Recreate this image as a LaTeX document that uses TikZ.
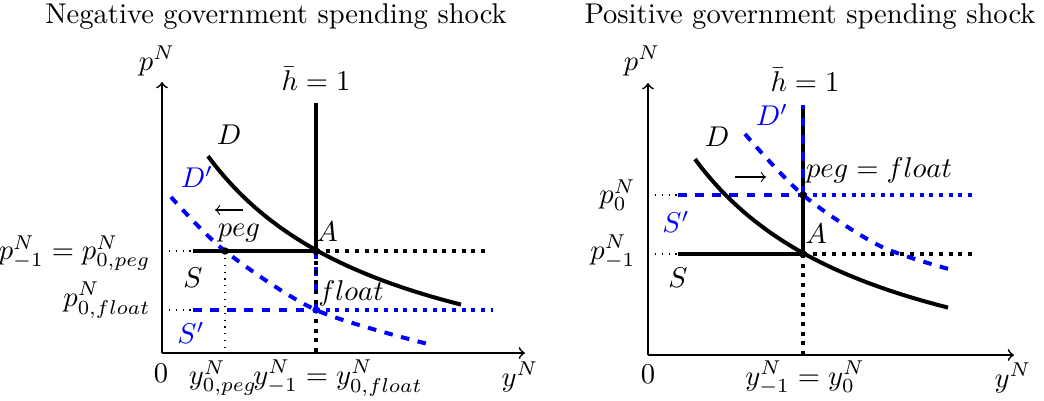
\documentclass[tikz,border=0pt]{standalone}
\usepackage{amsmath}
\begin{document}
\begin{tikzpicture}[x=0.35pt,y=-0.35pt,
  axis/.style={semithick,->},
  thickcurve/.style={line width=1.4pt},
  blackdots/.style={line width=1.4pt,dotted},
  bluedash/.style={line width=1.4pt,dashed,blue},
  bluedots/.style={line width=1.4pt,dotted,blue},
  guide/.style={dotted,line width=0.4pt},
  lbl/.style={inner sep=0pt},
  bluelbl/.style={inner sep=0pt,text=blue}]
\useasboundingbox (0,0) rectangle (1044,400);

% ---------------- Left panel ----------------
\node[lbl] (t1) at (276,17) {Negative government spending shock};
\coordinate (O1) at (162,353);
\coordinate (Y1) at (162,82);
\coordinate (X1) at (525,353);
\coordinate (A1) at (316,251);
\coordinate (P1) at (225,251);
\coordinate (F1) at (316,310);
\coordinate (H1) at (316,103);
\coordinate (HB1) at (316,353);
\coordinate (S1s) at (193,251);
\coordinate (S1e) at (490,251);
\coordinate (S1a) at (162,251);
\coordinate (T1s) at (193,310);
\coordinate (T1e) at (493,310);
\coordinate (T1a) at (162,310);
\coordinate (PB1) at (225,353);

\draw[axis] (O1) -- (Y1);
\draw[axis] (O1) -- (X1);
\draw[guide] (S1a) -- (S1s);
\draw[guide] (T1a) -- (T1s);
\draw[guide] (P1) -- (PB1);

\draw[bluedash] (T1s) -- (F1);
\draw[bluedots] (F1) -- (T1e);
\draw[bluedash] (F1) -- (H1);
\draw[thickcurve] (H1) -- (A1);
\draw[blackdots] (A1) -- (HB1);
\draw[thickcurve] (S1s) -- (A1);
\draw[blackdots] (A1) -- (S1e);

\draw[thickcurve] plot[domain=208:461,samples=60] (\x,{417.8-505/((\x-15)/100)});
\draw[bluedash] plot[smooth] coordinates {(171,197) (225,251) (316,310) (428,344)};

\fill (A1) circle[radius=1.3pt];
\fill (P1) circle[radius=1.3pt];
\fill[blue] (F1) circle[radius=1.3pt];

\coordinate (ar1s) at (243,210);
\coordinate (ar1e) at (215,210);
\draw[->] (ar1s) -- (ar1e);

\node[lbl] (pN1) at (157,61) {$p^N$};
\node[lbl] (yN1) at (520,377) {$y^N$};
\node[lbl] (z1) at (161,373) {$0$};
\node[lbl] (h1) at (316,79) {$\bar h = 1$};
\node[lbl] (D1) at (229,135) {$D$};
\node[bluelbl] (Dp1) at (197,177) {$D'$};
\node[lbl] (peg1) at (239,233) {$peg$};
\node[lbl] (Al1) at (327,232) {$A$};
\node[lbl] (Sl1) at (193,278) {$S$};
\node[bluelbl] (Spl1) at (191,333) {$S'$};
\node[lbl] (fl1) at (351,293) {$float$};
\node[lbl,anchor=east] (pl1) at (151,253) {$p^N_{-1} = p^N_{0,peg}$};
\node[lbl,anchor=east] (pl2) at (151,300) {$p^N_{0,float}$};
\node[lbl] (xl1) at (223,378) {$y^N_{0,peg}$};
\node[lbl] (xl2) at (338,378) {$y^N_{-1} = y^N_{0,float}$};

% ---------------- Right panel ----------------
\node[lbl] (t2) at (810,17) {Positive government spending shock};
\coordinate (O2) at (648,355);
\coordinate (Y2) at (648,83);
\coordinate (X2) at (1014,355);
\coordinate (A2) at (803,254);
\coordinate (P2) at (803,195);
\coordinate (H2) at (803,105);
\coordinate (HB2) at (803,355);
\coordinate (S2s) at (678,254);
\coordinate (S2e) at (975,254);
\coordinate (S2a) at (648,254);
\coordinate (T2s) at (678,195);
\coordinate (T2e) at (975,195);
\coordinate (T2a) at (648,195);

\draw[axis] (O2) -- (Y2);
\draw[axis] (O2) -- (X2);
\draw[guide] (S2a) -- (S2s);
\draw[guide] (T2a) -- (T2s);

\draw[thickcurve] (S2s) -- (A2);
\draw[blackdots] (A2) -- (S2e);
\draw[thickcurve] (H2) -- (A2);
\draw[blackdots] (A2) -- (HB2);
\draw[bluedash] (T2s) -- (P2);
\draw[bluedots] (P2) -- (T2e);
\draw[bluedash] (P2) -- (H2);

\draw[thickcurve] plot[domain=695:948,samples=60] (\x,{420.8-505/((\x-502)/100)});
\draw[bluedash] plot[smooth] coordinates {(745,134) (803,195) (880,246) (956,271)};

\fill (A2) circle[radius=1.3pt];
\fill (P2) circle[radius=1.3pt];

\coordinate (ar2s) at (735,177);
\coordinate (ar2e) at (766,177);
\draw[->] (ar2s) -- (ar2e);

\node[lbl] (pN2) at (642,61) {$p^N$};
\node[lbl] (yN2) at (1013,378) {$y^N$};
\node[lbl] (z2) at (648,374) {$0$};
\node[lbl] (h2) at (805,80) {$\bar h = 1$};
\node[lbl] (D2) at (717,137) {$D$};
\node[bluelbl] (Dp2) at (772,115) {$D'$};
\node[lbl] (pf2) at (879,170) {$peg = float$};
\node[lbl] (Al2) at (816,234) {$A$};
\node[bluelbl] (Spl2) at (676,222) {$S'$};
\node[lbl] (Sl2) at (678,278) {$S$};
\node[lbl,anchor=east] (pl3) at (636,195) {$p^N_0$};
\node[lbl,anchor=east] (pl4) at (636,252) {$p^N_{-1}$};
\node[lbl] (xl3) at (805,378) {$y^N_{-1} = y^N_0$};
\end{tikzpicture}
\end{document}
